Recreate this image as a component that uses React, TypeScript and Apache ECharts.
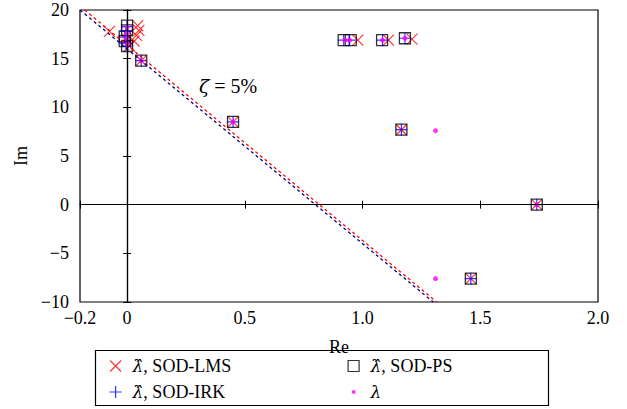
import React, { useEffect, useRef } from 'react';
import * as echarts from 'echarts';

// SOD-LMS estimates (red x)
const lmsRe = [-0.075, 0.045, 0.05, 0.04, 0.03, 0.01, 0.0, 0.98, 1.11, 1.21, 0.06, 0.45, 1.165, 1.74, 1.46];
const lmsIm = [17.8, 18.4, 17.9, 17.4, 16.8, 16.3, 17.0, 16.9, 16.9, 17.0, 14.8, 8.5, 7.7, 0.0, -7.6];
// SOD-IRK estimates (blue +)
const irkRe = [0.0, -0.005, -0.01, -0.005, 0.0, 0.92, 0.945, 1.085, 1.18, 0.06, 0.45, 1.165, 1.74, 1.46];
const irkIm = [18.3, 17.8, 17.2, 16.6, 16.3, 16.9, 16.9, 16.9, 17.1, 14.8, 8.5, 7.7, 0.0, -7.6];
// SOD-PS estimates (black squares)
const psRe = [0.0, 0.0, -0.01, -0.01, 0.0, 0.92, 0.95, 1.083, 1.18, 0.06, 0.45, 1.165, 1.74, 1.46];
const psIm = [18.4, 17.9, 17.3, 16.8, 16.3, 16.9, 16.9, 16.9, 17.1, 14.8, 8.5, 7.7, 0.0, -7.6];
// exact eigenvalues (magenta dots)
const lamRe = [0.0, 0.0, -0.005, 0.0, 0.925, 0.945, 1.085, 1.18, 0.06, 0.45, 1.31, 1.31, 1.74];
const lamIm = [18.2, 17.6, 17.1, 16.5, 16.9, 16.9, 16.9, 17.1, 14.8, 8.5, 7.6, -7.6, 0.0];
// 5% damping lines
const dampRedRe = [-0.2, 1.315];
const dampRedIm = [20.4, -10];
const dampNavyRe = [-0.2, 1.3];
const dampNavyIm = [20.0, -10];

const xTicks = [-0.2, 0, 0.5, 1.0, 1.5, 2.0];

const names = ['λ̂, SOD-LMS', 'λ̂, SOD-IRK', 'λ̂, SOD-PS', 'λ'];
const FONT = 'Liberation Serif';

const pts = (re: number[], im: number[]) => re.map((r, i) => [r, im[i]]);

const X_SYM = 'path://M0.5,0.5L10.5,10.5M10.5,0.5L0.5,10.5';
const P_SYM = 'path://M5.5,0L5.5,11M0,5.5L11,5.5';
const X_LEG = 'path://M0,0M18,12M0.5,0.5L11.5,11.5M11.5,0.5L0.5,11.5';
const P_LEG = 'path://M0,0M18,12M6,0L6,12M0,6L12,6';
const S_LEG = 'path://M0,0M18,12M0.5,0.5L11.5,0.5L11.5,11.5L0.5,11.5Z';
const D_LEG = 'path://M0,0M18,12M4,6A2,2 0 1 1 8,6A2,2 0 1 1 4,6Z';

const fmtMinus = (s: string) => s.replace('-', '−');

export default function App() {
  const ref = useRef<HTMLDivElement>(null);
  useEffect(() => {
    if (!ref.current) return;
    const chart = echarts.init(ref.current, undefined, { renderer: 'svg' });
    const legendText = {
      fontFamily: FONT,
      fontSize: 18,
      color: '#000',
      lineHeight: 20,
      rich: {
        i: { fontFamily: 'DejaVu Serif', fontStyle: 'italic', fontSize: 17, color: '#000' },
        n: { fontFamily: FONT, fontSize: 18, color: '#000' },
      },
    };
    const legendFmt = (name: string) =>
      name === 'λ' ? '{i|λ}' : `{i|λ̂}{n|${name.slice(2)}}`;
    const option: any = {
      animation: false,
      backgroundColor: '#fff',
      grid: {
        left: 80,
        right: 29,
        top: 10,
        bottom: 107,
        show: true,
        borderColor: '#000',
        borderWidth: 1.2,
        containLabel: false,
      },
      xAxis: [
        {
          type: 'value',
          min: -0.2,
          max: 2.0,
          name: 'Re',
          nameLocation: 'middle',
          nameGap: 36,
          nameTextStyle: { fontFamily: FONT, fontSize: 18, color: '#000' },
          axisLine: { show: true, lineStyle: { color: '#000', width: 1.2 } },
          axisTick: { show: true, inside: true, length: 4, customValues: xTicks, lineStyle: { color: '#000' } },
          axisLabel: {
            customValues: xTicks,
            margin: 7,
            fontFamily: FONT,
            fontSize: 18,
            color: '#000',
            formatter: (v: number) => (v === 0 ? '0' : fmtMinus(v.toFixed(1))),
          },
          splitLine: { show: false },
        },
        {
          type: 'value',
          position: 'top',
          min: -0.2,
          max: 2.0,
          axisLine: { show: true, lineStyle: { color: '#000', width: 1.2 } },
          axisTick: { show: true, inside: true, length: 4, customValues: xTicks, lineStyle: { color: '#000' } },
          axisLabel: { show: false },
          splitLine: { show: false },
        },
      ],
      yAxis: [
        {
          type: 'value',
          min: -10,
          max: 20,
          interval: 5,
          name: 'Im',
          nameLocation: 'middle',
          nameGap: 50,
          nameRotate: 90,
          nameTextStyle: { fontFamily: FONT, fontSize: 18, color: '#000' },
          axisLine: { show: true, lineStyle: { color: '#000', width: 1.2 } },
          axisTick: { show: true, inside: true, length: 4, lineStyle: { color: '#000' } },
          axisLabel: {
            margin: 11,
            fontFamily: FONT,
            fontSize: 18,
            color: '#000',
            formatter: (v: number) => fmtMinus(String(v)),
          },
          splitLine: { show: false },
        },
        {
          type: 'value',
          position: 'right',
          min: -10,
          max: 20,
          interval: 5,
          axisLine: { show: true, lineStyle: { color: '#000', width: 1.2 } },
          axisTick: { show: true, inside: true, length: 4, lineStyle: { color: '#000' } },
          axisLabel: { show: false },
          splitLine: { show: false },
        },
      ],
      legend: [
        {
          orient: 'vertical',
          left: 104,
          top: 351,
          itemWidth: 18,
          itemHeight: 12,
          itemGap: 6,
          selectedMode: false,
          textStyle: legendText,
          formatter: legendFmt,
          data: [
            { name: names[0], icon: X_LEG, itemStyle: { color: 'rgba(0,0,0,0)', borderColor: '#ff0000', borderWidth: 1.2 } },
            { name: names[1], icon: P_LEG, itemStyle: { color: 'rgba(0,0,0,0)', borderColor: '#0000ff', borderWidth: 1.2 } },
          ],
        },
        {
          orient: 'vertical',
          left: 342,
          top: 351,
          itemWidth: 18,
          itemHeight: 12,
          itemGap: 6,
          selectedMode: false,
          textStyle: legendText,
          formatter: legendFmt,
          data: [
            { name: names[2], icon: S_LEG, itemStyle: { color: 'rgba(0,0,0,0)', borderColor: '#000', borderWidth: 1.2 } },
            { name: names[3], icon: D_LEG, itemStyle: { color: '#ff00ff', borderColor: '#ff00ff', borderWidth: 0 } },
          ],
        },
      ],
      graphic: [
        {
          type: 'rect',
          shape: { x: 95.5, y: 350.5, width: 453, height: 55 },
          style: { fill: 'none', stroke: '#000', lineWidth: 1.2 },
          silent: true,
        },
        {
          type: 'text',
          left: 199,
          top: 76,
          style: {
            text: '{i|ζ}{n| = 5%}',
            rich: {
              i: { fontFamily: 'DejaVu Serif', fontStyle: 'italic', fontSize: 19, fill: '#000' },
              n: { fontFamily: FONT, fontSize: 20, fill: '#000' },
            },
          },
        },
      ],
      series: [
        {
          name: 'zero-lines',
          type: 'line',
          data: [],
          silent: true,
          markLine: {
            silent: true,
            symbol: 'none',
            label: { show: false },
            lineStyle: { color: '#000', width: 1, type: 'solid' },
            data: [{ xAxis: 0 }, { yAxis: 0 }],
          },
        },
        {
          name: 'damp-red',
          type: 'line',
          data: pts(dampRedRe, dampRedIm),
          symbol: 'none',
          clip: true,
          lineStyle: { color: '#ff0000', width: 1.3, type: [3, 3] },
          silent: true,
        },
        {
          name: 'damp-navy',
          type: 'line',
          data: pts(dampNavyRe, dampNavyIm),
          symbol: 'none',
          clip: true,
          lineStyle: { color: '#000080', width: 1.3, type: [3, 3] },
          silent: true,
        },
        {
          name: names[0],
          type: 'scatter',
          data: pts(lmsRe, lmsIm),
          symbol: X_SYM,
          symbolSize: 11,
          itemStyle: { color: 'rgba(0,0,0,0)', borderColor: '#ff0000', borderWidth: 1.2 },
        },
        {
          name: names[2],
          type: 'scatter',
          data: pts(psRe, psIm),
          symbol: 'rect',
          symbolSize: 11,
          itemStyle: { color: 'rgba(0,0,0,0)', borderColor: '#000', borderWidth: 1.3 },
        },
        {
          name: names[1],
          type: 'scatter',
          data: pts(irkRe, irkIm),
          symbol: P_SYM,
          symbolSize: 12,
          itemStyle: { color: 'rgba(0,0,0,0)', borderColor: '#0000ff', borderWidth: 1.2 },
        },
        {
          name: names[3],
          type: 'scatter',
          data: pts(lamRe, lamIm),
          symbol: 'circle',
          symbolSize: 5,
          itemStyle: { color: '#ff00ff', borderWidth: 0 },
        },
      ],
    };
    chart.setOption(option);
    return () => chart.dispose();
  }, []);
  return <div ref={ref} style={{ width: 627, height: 409, position: 'absolute', left: 0, top: 0 }} />;
}
